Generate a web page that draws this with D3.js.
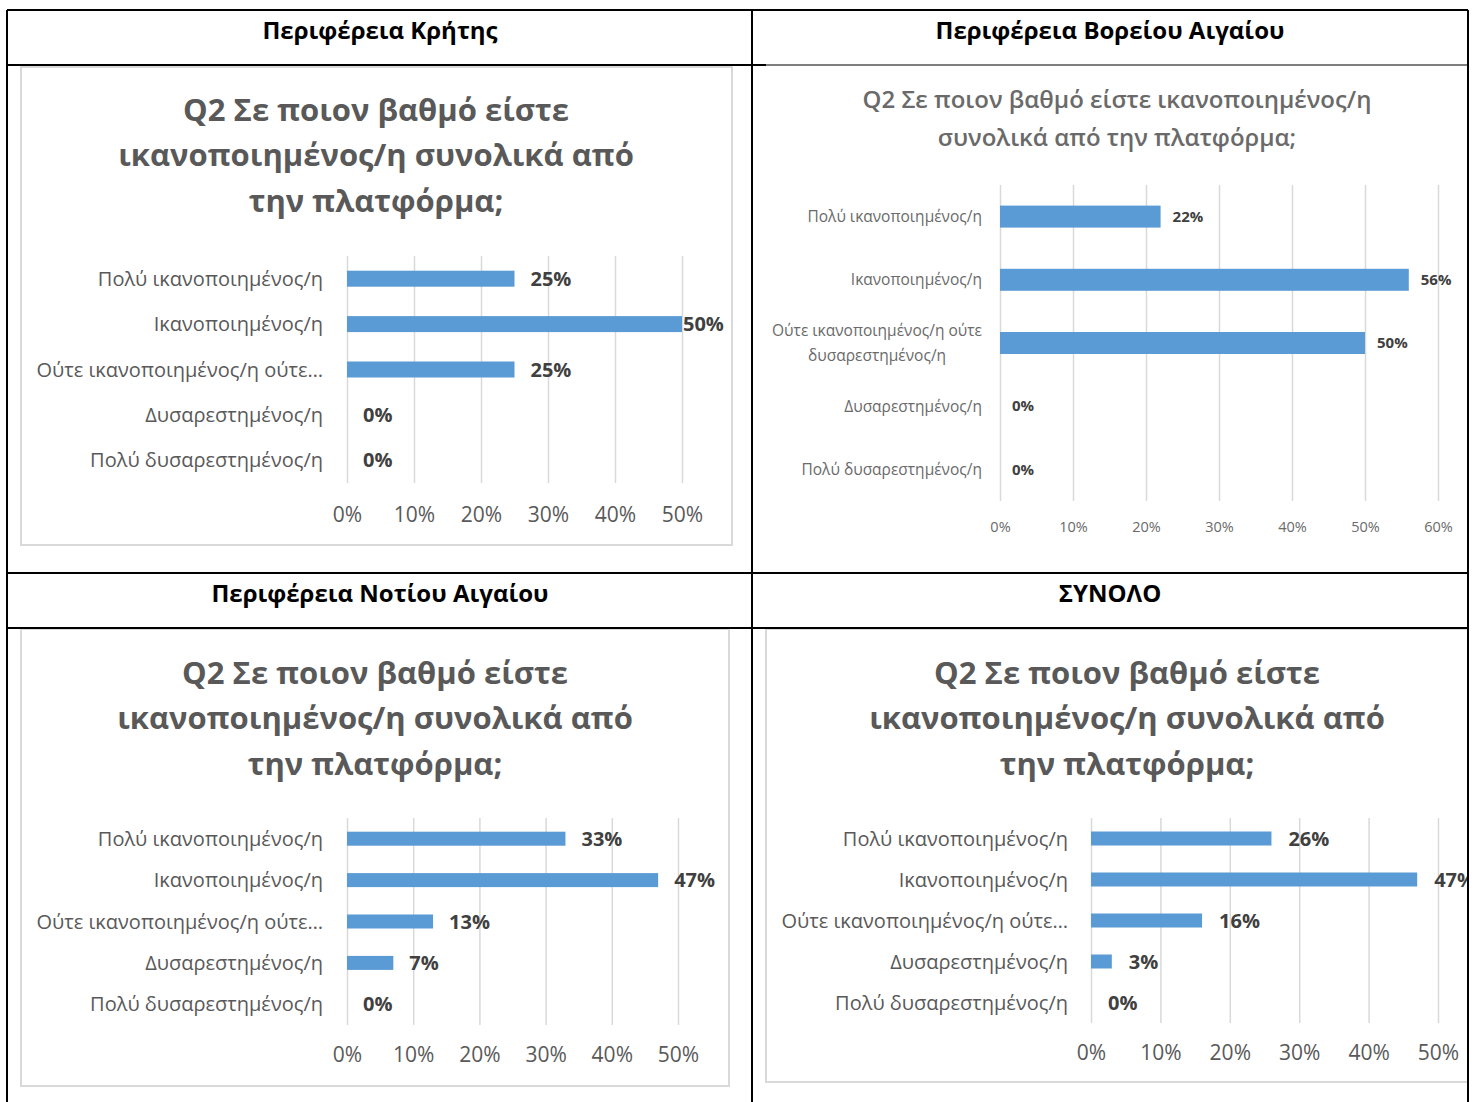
<!DOCTYPE html>
<html>
<head>
<meta charset="utf-8">
<script src="https://cdn.jsdelivr.net/npm/d3@7"></script>
<style>
body { margin: 0; background: #fff; }
svg text { font-family: "Open Sans", "Noto Sans", sans-serif; }
</style>
</head>
<body>
<svg id="page" width="1474" height="1102"></svg>
<script>
// data
var regions = ["Περιφέρεια Κρήτης", "Περιφέρεια Βορείου Αιγαίου", "Περιφέρεια Νοτίου Αιγαίου", "ΣΥΝΟΛΟ"];
var categories = ["Πολύ ικανοποιημένος/η", "Ικανοποιημένος/η", "Ούτε ικανοποιημένος/η ούτε δυσαρεστημένος/η", "Δυσαρεστημένος/η", "Πολύ δυσαρεστημένος/η"];
var labelsShort = ["Πολύ ικανοποιημένος/η", "Ικανοποιημένος/η", "Ούτε ικανοποιημένος/η ούτε…", "Δυσαρεστημένος/η", "Πολύ δυσαρεστημένος/η"];
var labelsWrapped = [["Πολύ ικανοποιημένος/η"], ["Ικανοποιημένος/η"], ["Ούτε ικανοποιημένος/η ούτε", "δυσαρεστημένος/η"], ["Δυσαρεστημένος/η"], ["Πολύ δυσαρεστημένος/η"]];
var titleLines = ["Q2 Σε ποιον βαθμό είστε", "ικανοποιημένος/η συνολικά από", "την πλατφόρμα;"];
var titleLinesWide = ["Q2 Σε ποιον βαθμό είστε ικανοποιημένος/η", "συνολικά από την πλατφόρμα;"];

var creteValues = [25, 50, 25, 0, 0];
var northAegeanValues = [22, 56, 50, 0, 0];
var southAegeanValues = [33, 47, 13, 7, 0];
var totalValues = [26, 47, 16, 3, 0];

var ticks50 = [0, 10, 20, 30, 40, 50];
var ticks60 = [0, 10, 20, 30, 40, 50, 60];

var svg = d3.select("#page");
var barColor = "#5b9bd5", gridColor = "#d9d9d9", textColor = "#595959";

svg.append("rect").attr("width", 1474).attr("height", 1102).attr("fill", "#fff");

var panels = [
  { region: regions[0], values: creteValues, ticks: ticks50, labels: labelsShort, titles: titleLines,
    cell: [8, 66, 752, 572], box: [21, 67, 732, 545], titleX: 376, titleY: [110, 155, 201], titleSize: 31, titleWeight: 700,
    plot: [347, 682, 256, 483], labelX: 323, fontSize: 20, barH: 16, tickY: 515, gap: 16, valueSize: 20, tickSize: 21, color: textColor },
  { region: regions[1], values: northAegeanValues, ticks: ticks60, labels: labelsWrapped, titles: titleLinesWide,
    cell: [752, 66, 1468, 572], box: null, titleX: 1117, titleY: [100, 138], titleSize: 24, titleWeight: 600,
    plot: [1000, 1438, 185, 501], labelX: 982, fontSize: 15.5, barH: 22, tickY: 527, gap: 12, valueSize: 15, tickSize: 14.5, color: "#6a6a6a" },
  { region: regions[2], values: southAegeanValues, ticks: ticks50, labels: labelsShort, titles: titleLines,
    cell: [8, 629, 752, 1102], box: [21, 629, 729, 1086], titleX: 375, titleY: [673, 718, 764], titleSize: 31, titleWeight: 700,
    plot: [347, 678, 818, 1025], labelX: 323, fontSize: 20, barH: 14, tickY: 1055, gap: 16, valueSize: 20, tickSize: 21, color: textColor },
  { region: regions[3], values: totalValues, ticks: ticks50, labels: labelsShort, titles: titleLines,
    cell: [752, 629, 1468, 1102], box: [766, 629, 1490, 1082], titleX: 1127, titleY: [673, 718, 764], titleSize: 31, titleWeight: 700,
    plot: [1091, 1438, 818, 1023], labelX: 1068, fontSize: 20, barH: 14, tickY: 1053, gap: 17, valueSize: 20, tickSize: 21, color: textColor }
];

panels.forEach(function (p, k) {
  var clipId = "clip" + k;
  svg.append("clipPath").attr("id", clipId)
    .append("rect")
    .attr("x", p.cell[0]).attr("y", p.cell[1])
    .attr("width", p.cell[2] - p.cell[0]).attr("height", p.cell[3] - p.cell[1]);

  var g = svg.append("g").attr("clip-path", "url(#" + clipId + ")");

  if (p.box) {
    g.append("rect")
      .attr("x", p.box[0]).attr("y", p.box[1])
      .attr("width", p.box[2] - p.box[0]).attr("height", p.box[3] - p.box[1])
      .attr("fill", "none").attr("stroke", gridColor).attr("stroke-width", 2);
  }

  g.append("g").selectAll("text")
    .data(p.titles)
    .enter().append("text")
    .attr("x", p.titleX)
    .attr("y", function (d, i) { return p.titleY[i]; })
    .attr("dy", "0.35em")
    .attr("text-anchor", "middle")
    .attr("font-size", p.titleSize)
    .attr("font-weight", p.titleWeight)
    .attr("fill", p.color)
    .text(function (d) { return d; });

  var x = d3.scaleLinear().domain([0, d3.max(p.ticks)]).range([p.plot[0], p.plot[1]]);
  var y = d3.scaleBand().domain(d3.range(categories.length)).range([p.plot[2], p.plot[3]]);

  // x axis + gridlines
  var xAxis = g.append("g")
    .attr("transform", "translate(0," + p.plot[3] + ")")
    .call(d3.axisBottom(x)
      .tickValues(p.ticks)
      .tickFormat(function (d) { return d + "%"; })
      .tickSize(-(p.plot[3] - p.plot[2])));
  xAxis.select(".domain").remove();
  xAxis.selectAll(".tick line").attr("stroke", gridColor).attr("stroke-width", 1.5);
  xAxis.selectAll(".tick text")
    .attr("y", p.tickY - p.plot[3])
    .attr("dy", "0.35em")
    .attr("fill", p.color)
    .attr("font-size", p.tickSize)
    .attr("font-family", null);

  // category axis, wrapped labels get the 2nd line centred under the 1st
  var pad = p.plot[0] - p.labelX;
  var yAxis = g.append("g")
    .attr("transform", "translate(" + p.plot[0] + ",0)")
    .call(d3.axisLeft(y).tickSize(0).tickPadding(pad).tickFormat(""));
  yAxis.select(".domain").remove();
  yAxis.selectAll(".tick text")
    .attr("fill", p.color)
    .attr("font-size", p.fontSize)
    .attr("font-family", null)
    .attr("dy", null)
    .each(function (i) {
      var lab = p.labels[i];
      var lines = Array.isArray(lab) ? lab : [lab];
      var t = d3.select(this);
      var first = t.append("tspan")
        .attr("x", -pad)
        .attr("dy", (0.35 - (lines.length - 1) * 0.8) + "em")
        .text(lines[0]);
      if (lines.length > 1) {
        var w = first.node().getComputedTextLength();
        d3.select(this.parentNode).append("text")
          .attr("x", -pad - w / 2)
          .attr("dy", (0.35 + 0.8) + "em")
          .attr("text-anchor", "middle")
          .attr("fill", p.color)
          .attr("font-size", p.fontSize)
          .text(lines[1]);
      }
    });

  // bars
  g.append("g").selectAll("rect")
    .data(p.values)
    .enter().append("rect")
    .attr("x", x(0))
    .attr("y", function (d, i) { return y(i) + y.bandwidth() / 2 - p.barH / 2; })
    .attr("width", function (d) { return x(d) - x(0); })
    .attr("height", p.barH)
    .attr("fill", barColor);

  // value labels
  g.append("g").selectAll("text")
    .data(p.values)
    .enter().append("text")
    .attr("x", function (d) { return Math.min(x(d) + p.gap, p.plot[1] + 1); })
    .attr("y", function (d, i) { return y(i) + y.bandwidth() / 2; })
    .attr("dy", "0.35em")
    .attr("font-size", p.valueSize)
    .attr("font-weight", 700)
    .attr("fill", "#404040")
    .text(function (d) { return d + "%"; });

  // region header
  svg.append("text")
    .attr("x", (p.cell[0] + p.cell[2]) / 2)
    .attr("y", p.cell[1] - 35)
    .attr("dy", "0.35em")
    .attr("text-anchor", "middle")
    .attr("font-size", 24)
    .attr("font-weight", 700)
    .attr("fill", "#000")
    .text(p.region);
});

// table rules
var rules = [
  [7, 10, 1468, 10], [7, 65, 766, 65], [766, 65, 1468, 65],
  [7, 573, 1468, 573], [7, 628, 1468, 628],
  [7, 10, 7, 1102], [752, 10, 752, 1102], [1468, 10, 1468, 1102]
];
svg.append("g").selectAll("line")
  .data(rules)
  .enter().append("line")
  .attr("x1", function (d) { return d[0]; })
  .attr("y1", function (d) { return d[1]; })
  .attr("x2", function (d) { return d[2]; })
  .attr("y2", function (d) { return d[3]; })
  .attr("stroke", "#000")
  .attr("stroke-width", function (d, i) { return i === 2 ? 1.2 : 2; });
</script>
</body>
</html>
